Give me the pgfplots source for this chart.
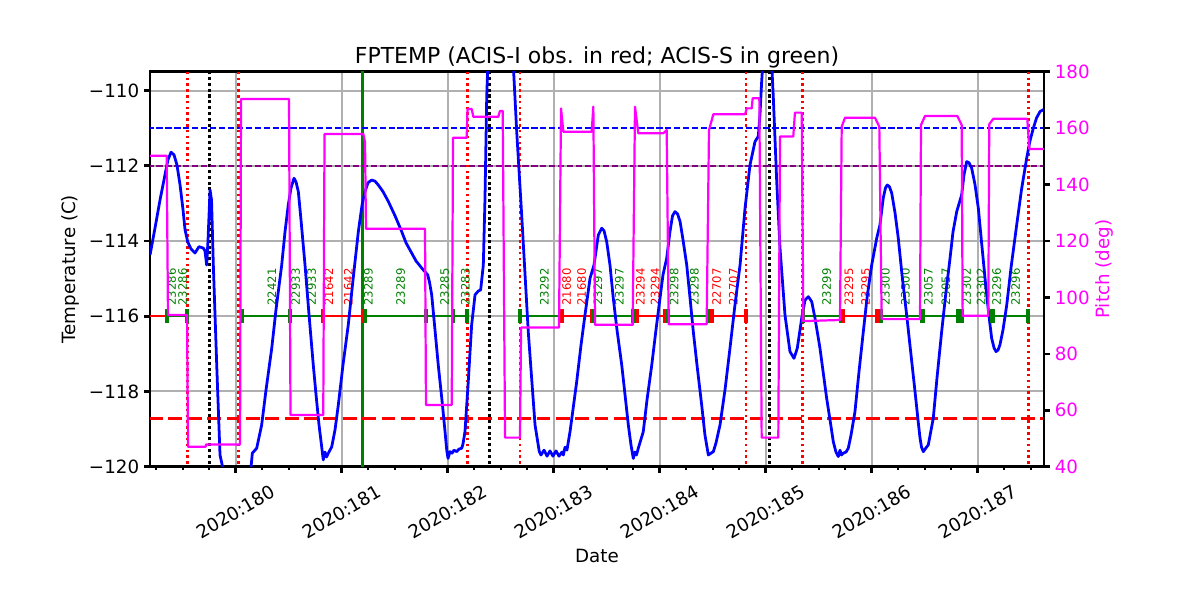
\documentclass[border=0pt]{standalone}
\usepackage{pgfplots}
\pgfplotsset{compat=1.18}
\usepackage{fontspec}
\setmainfont{DejaVu Sans}
\definecolor{mgreen}{HTML}{008000}
\definecolor{mred}{HTML}{FF0000}
\definecolor{mblue}{HTML}{0000FF}
\definecolor{mmag}{HTML}{FF00FF}
\definecolor{mpurp}{HTML}{800080}
\definecolor{mgrid}{HTML}{B0B0B0}
\newcommand\tk{\fontsize{13.2pt}{16pt}\selectfont}
\newcommand\ob{\fontsize{8.4pt}{10pt}\selectfont}
\pgfplotsset{
  /pgf/number format/assume math mode=true,
  obsg/.style={mgreen, line width=1.8pt, mark=|, mark size=4.9pt, mark options={line width=2.9pt, solid}},
  obsr/.style={mred, line width=1.8pt, mark=|, mark size=4.9pt, mark options={line width=2.9pt, solid}},
  reddot/.style={mred, line width=1.8pt, dash pattern=on 1.8pt off 2.4pt},
  blkdot/.style={black, line width=1.9pt, dash pattern=on 2.2pt off 2.0pt},
}
\tikzset{obsl/.style={rotate=90, anchor=west, inner sep=0pt, font=\ob}}
\begin{document}
\begin{tikzpicture}
\path[use as bounding box] (0,0) rectangle (12in,6in);
\begin{axis}[
  at={(1.5in,1.333in)}, anchor=south west,
  scale only axis, width=8.94in, height=3.95in,
  xmin=179.1915, xmax=187.6255, ymin=-120, ymax=-109.5,
  axis line style={line width=1.9pt},
  tick align=outside, xtick pos=bottom, ytick pos=left,
  major tick length=4.3pt, minor tick length=2.4pt,
  major tick style={black, line width=1.9pt},
  minor tick style={black, line width=1.4pt},
  xtick={180,181,182,183,184,185,186,187},
  xticklabels={2020:180,2020:181,2020:182,2020:183,2020:184,2020:185,2020:186,2020:187},
  minor xtick={179.25,179.5,179.75,180.25,180.5,180.75,181.25,181.5,181.75,182.25,182.5,182.75,183.25,183.5,183.75,184.25,184.5,184.75,185.25,185.5,185.75,186.25,186.5,186.75,187.25,187.5},
  ytick={-120,-118,-116,-114,-112,-110},
  yticklabels={−120,−118,−116,−114,−112,−110},
  yticklabel style={font=\tk},
  xticklabel style={font=\tk, anchor=center, yshift=-28.3pt, rotate=30},
  grid=major, major grid style={mgrid, line width=1.45pt},
  title={FPTEMP (ACIS-I obs. in red; ACIS-S in green)},
  every axis title/.style={at={(axis description cs:0.5,1.037)}, anchor=center, font=\fontsize{15.9pt}{19pt}\selectfont},
  xlabel={Date},
  every axis x label/.style={at={(axis description cs:0.5,-0.226)}, anchor=center, font=\tk},
  ylabel={Temperature (C)},
  every axis y label/.style={at={(axis description cs:-0.0895,0.5)}, rotate=90, anchor=center, font=\tk},
]
% vertical reference lines
\addplot[reddot] coordinates {(179.543,-121) (179.543,-109)};
\addplot[reddot] coordinates {(180.025,-121) (180.025,-109)};
\addplot[reddot] coordinates {(182.185,-121) (182.185,-109)};
\addplot[reddot] coordinates {(182.682,-121) (182.682,-109)};
\addplot[reddot] coordinates {(184.814,-121) (184.814,-109)};
\addplot[reddot] coordinates {(185.345,-121) (185.345,-109)};
\addplot[reddot] coordinates {(187.477,-121) (187.477,-109)};
\addplot[blkdot] coordinates {(179.751,-121) (179.751,-109)};
\addplot[blkdot] coordinates {(182.392,-121) (182.392,-109)};
\addplot[blkdot] coordinates {(185.034,-121) (185.034,-109)};
\addplot[mgreen, line width=1.8pt] coordinates {(181.194,-121) (181.194,-109)};
% horizontal limit lines
\addplot[mblue, line width=1.2pt, dash pattern=on 4.5pt off 1.95pt] coordinates {(179,-111) (188,-111)};
\addplot[mpurp, line width=1.2pt, dash pattern=on 4.5pt off 1.95pt] coordinates {(179,-112) (188,-112)};
\addplot[mred, line width=2.3pt, dash pattern=on 10pt off 4pt] coordinates {(179,-118.72) (188,-118.72)};
% observation segments
\addplot[obsr] coordinates {(179.10,-116) (179.349,-116)};
\addplot[obsg] coordinates {(179.349,-116) (179.544,-116)};
\addplot[obsg] coordinates {(180.057,-116) (180.512,-116)};
\addplot[obsg] coordinates {(180.512,-116) (180.826,-116)};
\addplot[obsr] coordinates {(180.826,-116) (181.201,-116)};
\addplot[obsg] coordinates {(181.220,-116) (181.795,-116)};
\addplot[obsg] coordinates {(181.795,-116) (182.053,-116)};
\addplot[obsg] coordinates {(182.053,-116) (182.185,-116)};
\addplot[obsg] coordinates {(182.682,-116) (183.059,-116)};
\addplot[obsr] coordinates {(183.075,-116) (183.358,-116)};
\addplot[obsg] coordinates {(183.380,-116) (183.751,-116)};
\addplot[obsr] coordinates {(183.783,-116) (184.050,-116)};
\addplot[obsg] coordinates {(184.081,-116) (184.458,-116)};
\addplot[obsr] coordinates {(184.491,-116) (184.814,-116)};
\addplot[obsg] coordinates {(185.355,-116) (185.708,-116)};
\addplot[obsr] coordinates {(185.732,-116) (186.047,-116)};
\addplot[obsg] coordinates {(186.088,-116) (186.470,-116)};
\addplot[obsg] coordinates {(186.481,-116) (186.817,-116)};
\addplot[obsg] coordinates {(186.849,-116) (187.135,-116)};
\addplot[obsg] coordinates {(187.142,-116) (187.477,-116)};
% observation labels
\node[obsl, mgreen] at (axis cs:179.396,-115.72) {23286};
\node[obsl, mgreen] at (axis cs:179.500,-115.72) {23286};
\node[obsl, mgreen] at (axis cs:180.340,-115.72) {22421};
\node[obsl, mgreen] at (axis cs:180.566,-115.72) {22933};
\node[obsl, mgreen] at (axis cs:180.717,-115.72) {22933};
\node[obsl, mred] at (axis cs:180.880,-115.72) {21642};
\node[obsl, mred] at (axis cs:181.062,-115.72) {21642};
\node[obsl, mgreen] at (axis cs:181.251,-115.72) {23289};
\node[obsl, mgreen] at (axis cs:181.557,-115.72) {23289};
\node[obsl, mgreen] at (axis cs:181.970,-115.72) {23285};
\node[obsl, mgreen] at (axis cs:182.168,-115.72) {23283};
\node[obsl, mgreen] at (axis cs:182.913,-115.72) {23292};
\node[obsl, mred] at (axis cs:183.123,-115.72) {21680};
\node[obsl, mred] at (axis cs:183.264,-115.72) {21680};
\node[obsl, mgreen] at (axis cs:183.418,-115.72) {23297};
\node[obsl, mgreen] at (axis cs:183.619,-115.72) {23297};
\node[obsl, mred] at (axis cs:183.819,-115.72) {23294};
\node[obsl, mred] at (axis cs:183.956,-115.72) {23294};
\node[obsl, mgreen] at (axis cs:184.137,-115.72) {23298};
\node[obsl, mgreen] at (axis cs:184.328,-115.72) {23298};
\node[obsl, mred] at (axis cs:184.538,-115.72) {22707};
\node[obsl, mred] at (axis cs:184.696,-115.72) {22707};
\node[obsl, mgreen] at (axis cs:185.575,-115.72) {23299};
\node[obsl, mred] at (axis cs:185.786,-115.72) {23295};
\node[obsl, mred] at (axis cs:185.942,-115.72) {23295};
\node[obsl, mgreen] at (axis cs:186.130,-115.72) {23300};
\node[obsl, mgreen] at (axis cs:186.319,-115.72) {23300};
\node[obsl, mgreen] at (axis cs:186.534,-115.72) {23057};
\node[obsl, mgreen] at (axis cs:186.701,-115.72) {23057};
\node[obsl, mgreen] at (axis cs:186.896,-115.72) {23302};
\node[obsl, mgreen] at (axis cs:187.033,-115.72) {23302};
\node[obsl, mgreen] at (axis cs:187.179,-115.72) {23296};
\node[obsl, mgreen] at (axis cs:187.357,-115.72) {23296};
% FPTEMP
\addplot[mblue, line width=2pt, line join=round] coordinates {
(179.192,-114.37) (179.239,-113.65) (179.286,-112.91) (179.333,-112.24) (179.361,-111.84) (179.390,-111.64) (179.418,-111.71) (179.446,-111.98) (179.475,-112.51) (179.503,-113.17) (179.522,-113.70) (179.547,-114.02) (179.578,-114.21) (179.616,-114.32) (179.654,-114.15) (179.694,-114.19) (179.710,-114.26) (179.726,-114.64) (179.739,-113.97) (179.758,-112.64) (179.772,-112.91) (179.789,-114.64) (179.821,-117.30) (179.852,-119.69) (179.883,-120.09) (179.927,-120.62) (180.041,-120.89) (180.116,-120.49) (180.144,-120.03) (180.157,-119.64) (180.198,-119.51) (180.245,-118.89) (180.286,-117.96) (180.340,-116.85) (180.380,-115.83) (180.434,-114.64) (180.465,-113.76) (180.496,-113.04) (180.522,-112.59) (180.550,-112.33) (180.569,-112.43) (180.591,-112.69) (180.616,-113.44) (180.654,-114.64) (180.692,-115.97) (180.732,-117.30) (180.758,-118.09) (180.786,-118.89) (180.809,-119.42) (180.826,-119.82) (180.842,-119.61) (180.857,-119.74) (180.874,-119.64) (180.906,-119.47) (180.937,-119.02) (180.968,-118.36) (181.012,-117.30) (181.062,-116.23) (181.107,-115.03) (181.157,-113.75) (181.192,-113.04) (181.220,-112.69) (181.248,-112.45) (181.283,-112.38) (181.314,-112.41) (181.345,-112.51) (181.390,-112.69) (181.440,-112.95) (181.503,-113.33) (181.566,-113.75) (181.607,-114.05) (181.660,-114.32) (181.701,-114.53) (181.755,-114.72) (181.786,-114.82) (181.811,-114.90) (181.828,-115.09) (181.849,-115.43) (181.880,-116.36) (181.911,-117.30) (181.946,-118.23) (181.975,-119.07) (181.991,-119.56) (182.003,-119.78) (182.022,-119.60) (182.041,-119.64) (182.059,-119.56) (182.085,-119.60) (182.107,-119.53) (182.132,-119.51) (182.144,-119.40) (182.163,-119.07) (182.194,-117.74) (182.226,-116.23) (182.258,-115.43) (182.289,-115.33) (182.311,-115.30) (182.336,-114.64) (182.352,-112.85) (182.368,-110.19) (182.380,-109.18) (182.418,-107.59) (182.493,-106.52) (182.569,-107.06) (182.597,-108.39) (182.619,-109.32) (182.651,-111.09) (182.698,-113.31) (182.760,-116.41) (182.824,-118.89) (182.864,-119.60) (182.880,-119.69) (182.909,-119.56) (182.937,-119.72) (182.965,-119.58) (182.993,-119.72) (183.022,-119.58) (183.050,-119.72) (183.078,-119.61) (183.091,-119.69) (183.107,-119.48) (183.125,-119.56) (183.154,-119.07) (183.217,-117.74) (183.258,-116.76) (183.295,-115.97) (183.343,-114.99) (183.380,-114.64) (183.421,-113.84) (183.453,-113.66) (183.475,-113.73) (183.500,-114.02) (183.531,-114.64) (183.562,-115.52) (183.597,-116.36) (183.642,-117.30) (183.673,-118.09) (183.704,-118.89) (183.729,-119.42) (183.751,-119.78) (183.767,-119.61) (183.781,-119.69) (183.798,-119.51) (183.845,-119.07) (183.880,-118.23) (183.925,-117.30) (183.965,-116.36) (184.003,-115.52) (184.031,-114.90) (184.066,-114.46) (184.097,-113.75) (184.121,-113.33) (184.144,-113.22) (184.168,-113.28) (184.192,-113.48) (184.220,-113.97) (184.255,-114.64) (184.286,-115.51) (184.317,-116.41) (184.352,-117.30) (184.396,-118.36) (184.427,-119.16) (184.459,-119.69) (184.484,-119.64) (184.506,-119.60) (184.531,-119.37) (184.569,-118.89) (184.616,-117.96) (184.663,-116.85) (184.710,-115.70) (184.758,-114.64) (184.805,-113.13) (184.852,-111.98) (184.899,-111.36) (184.930,-111.22) (184.946,-110.65) (184.962,-109.76) (184.972,-109.32) (184.993,-108.12) (185.022,-107.59) (185.041,-108.39) (185.057,-109.32) (185.072,-110.19) (185.104,-112.42) (185.135,-114.19) (185.182,-115.97) (185.229,-116.94) (185.267,-117.12) (185.298,-116.85) (185.340,-116.05) (185.371,-115.57) (185.402,-115.48) (185.434,-115.61) (185.465,-116.05) (185.512,-116.85) (185.575,-118.18) (185.607,-118.76) (185.638,-119.34) (185.663,-119.61) (185.685,-119.73) (185.701,-119.56) (185.715,-119.69) (185.732,-119.64) (185.758,-119.61) (185.779,-119.51) (185.805,-119.16) (185.842,-118.54) (185.880,-117.48) (185.921,-116.41) (185.956,-115.51) (186.000,-114.64) (186.047,-113.93) (186.078,-113.57) (186.109,-112.86) (186.130,-112.59) (186.147,-112.51) (186.168,-112.56) (186.189,-112.73) (186.220,-113.25) (186.251,-113.93) (186.286,-114.90) (186.330,-115.97) (186.371,-117.03) (186.409,-118.01) (186.437,-118.76) (186.456,-119.24) (186.470,-119.48) (186.487,-119.60) (186.512,-119.50) (186.534,-119.42) (186.581,-118.71) (186.616,-117.64) (186.660,-116.41) (186.701,-115.35) (186.739,-114.46) (186.767,-113.76) (186.802,-113.22) (186.849,-112.77) (186.871,-112.24) (186.896,-111.89) (186.918,-111.92) (186.943,-112.06) (186.975,-112.51) (187.006,-113.13) (187.036,-114.02) (187.069,-114.99) (187.102,-115.89) (187.132,-116.59) (187.154,-116.84) (187.173,-116.94) (187.192,-116.90) (187.210,-116.76) (187.239,-116.36) (187.274,-115.70) (187.314,-114.72) (187.368,-113.57) (187.413,-112.64) (187.462,-111.80) (187.493,-111.34) (187.525,-111.00) (187.555,-110.73) (187.588,-110.56) (187.619,-110.51) (187.626,-110.51)
};
\end{axis}
\begin{axis}[
  at={(1.5in,1.333in)}, anchor=south west,
  scale only axis, width=8.94in, height=3.95in,
  xmin=179.1915, xmax=187.6255, ymin=40, ymax=180,
  axis x line=none, axis y line*=right,
  axis line style={line width=1.9pt},
  tick align=outside,
  major tick length=4.3pt,
  major tick style={black, line width=1.9pt},
  ytick={40,60,80,100,120,140,160,180},
  yticklabels={40,60,80,100,120,140,160,180},
  yticklabel style={font=\tk, text=mmag},
  ylabel={Pitch (deg)},
  every axis y label/.style={at={(axis description cs:1.068,0.5)}, rotate=90, anchor=center, font=\tk, text=mmag},
]
\addplot[mmag, line width=1.6pt, line join=round] coordinates {
(179.192,150.2) (179.349,150.2) (179.361,93.8) (179.541,93.8) (179.550,47.1) (179.717,47.1) (179.720,47.9) (180.041,47.9) (180.050,170.3) (180.503,170.3) (180.517,58.3) (180.826,58.3) (180.838,157.9) (181.204,157.9) (181.220,155.0) (181.229,124.3) (181.786,124.3) (181.795,61.9) (182.038,61.9) (182.050,156.6) (182.179,156.6) (182.187,166.8) (182.226,166.8) (182.242,164.0) (182.477,164.0) (182.493,166.1) (182.519,166.1) (182.541,50.3) (182.682,50.3) (182.692,89.3) (183.050,89.3) (183.069,167.0) (183.091,158.7) (183.358,158.7) (183.374,167.6) (183.390,90.3) (183.745,90.3) (183.767,167.6) (183.798,158.2) (184.034,158.2) (184.066,159.3) (184.085,90.5) (184.443,90.5) (184.465,159.3) (184.506,164.9) (184.805,164.9) (184.821,167.0) (184.868,167.0) (184.877,170.6) (184.940,170.6) (184.962,50.3) (185.119,50.3) (185.135,157.0) (185.260,157.0) (185.276,165.5) (185.340,165.5) (185.355,91.6) (185.701,92.0) (185.717,160.5) (185.748,163.7) (186.031,163.7) (186.072,160.5) (186.094,92.3) (186.456,92.3) (186.465,161.1) (186.503,164.3) (186.808,164.3) (186.849,161.1) (186.858,93.5) (187.100,93.5) (187.109,161.4) (187.147,163.3) (187.468,163.3) (187.487,152.6) (187.626,152.6)
};
\end{axis}
\end{tikzpicture}
\end{document}
